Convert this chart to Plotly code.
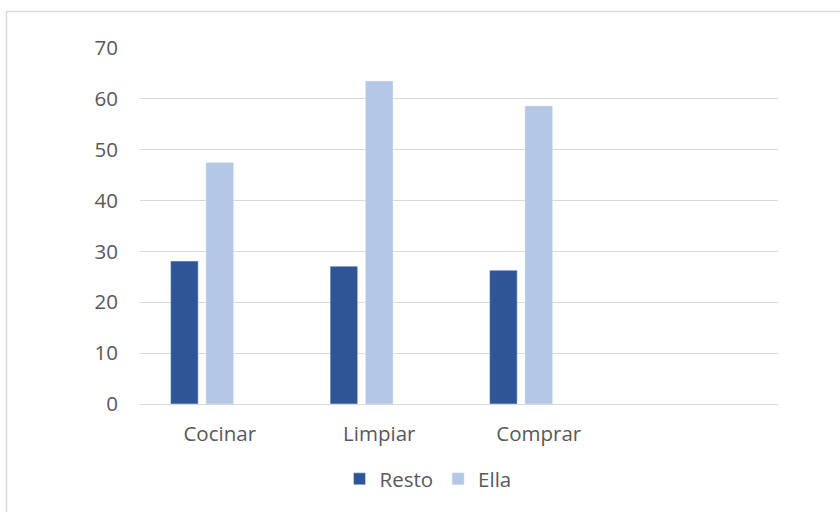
import plotly.graph_objects as go

categories = ["Cocinar", "Limpiar", "Comprar"]
resto = [28.1, 27.1, 26.3]
ella = [47.5, 63.5, 58.6]
empty_series = [None, None, None]
y_ticks = [0, 10, 20, 30, 40, 50, 60, 70]

W, H = 840, 512
L, R, T, B = 140, 62, 48, 108
pw, ph = W - L - R, H - T - B

font = dict(family="Open Sans, Liberation Sans, sans-serif", size=20.5, color="#595959")

fig = go.Figure()
fig.add_trace(go.Bar(x=categories, y=resto, name="Resto", marker=dict(color="#2F5597")))
fig.add_trace(go.Bar(x=categories, y=ella, name="Ella", marker=dict(color="#B4C7E7")))
fig.add_trace(go.Bar(x=categories, y=empty_series, name="", showlegend=False, marker=dict(color="#A5A5A5")))

# chart-area border (partially visible, like the reference)
fig.add_shape(type="rect", xref="paper", yref="paper",
              x0=(6.5 - L) / pw, x1=(W + 40 - L) / pw,
              y0=(H - B - (H + 40)) / ph, y1=(H - B - 11.5) / ph,
              line=dict(color="#D9D9D9", width=1.5), fillcolor="rgba(0,0,0,0)", layer="below")

fig.update_layout(
    width=W, height=H,
    margin=dict(l=L, r=R, t=T, b=B, pad=0),
    paper_bgcolor="white", plot_bgcolor="white",
    barmode="group", bargap=0.335, bargroupgap=0.22,
    font=font,
    showlegend=True,
    legend=dict(orientation="h", x=(428 - L) / pw, xanchor="center",
                y=(H - B - 479) / ph, yanchor="middle",
                font=font, itemwidth=30, tracegroupgap=0),
    xaxis=dict(type="category", range=[-0.5, 3.5], showgrid=False, showline=False,
               zeroline=False, ticks="outside", ticklen=11, tickcolor="rgba(0,0,0,0)",
               tickfont=font),
    yaxis=dict(range=[0, 70], tickvals=y_ticks, showgrid=True, gridcolor="#D9D9D9",
               gridwidth=1, zeroline=True, zerolinecolor="#D9D9D9", zerolinewidth=1,
               showline=False, ticks="outside", ticklen=17, tickcolor="rgba(0,0,0,0)",
               tickfont=font),
)

fig.write_html("out.html")
